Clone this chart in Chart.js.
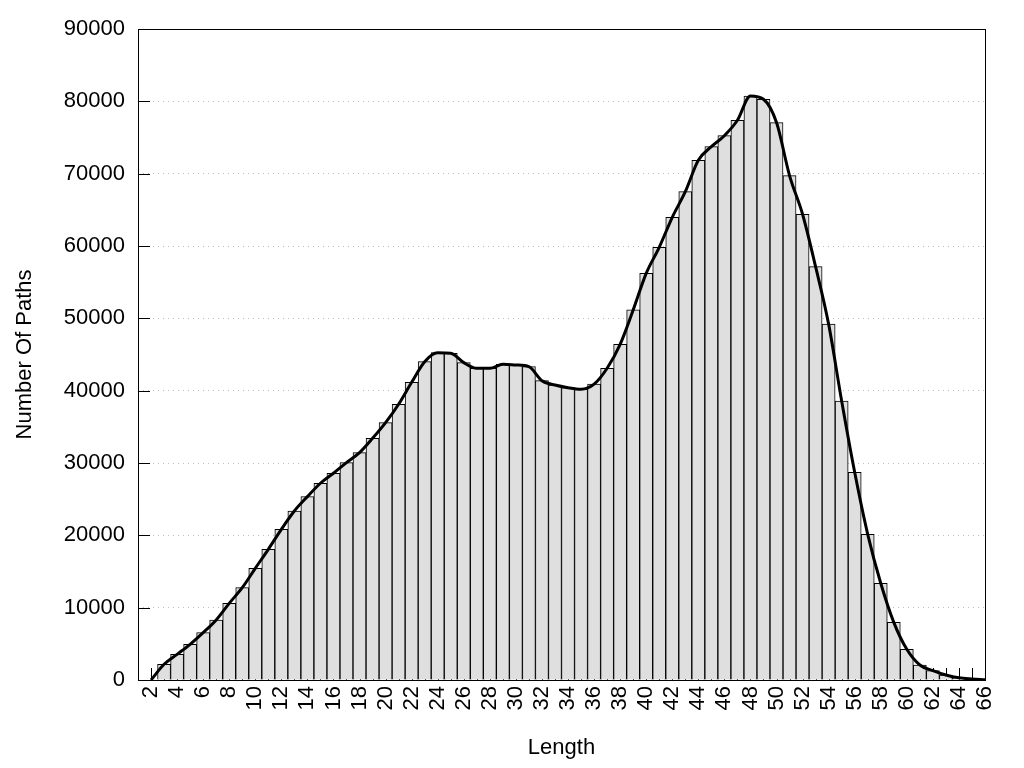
<!DOCTYPE html>
<html>
<head>
<meta charset="utf-8">
<script src="https://cdn.jsdelivr.net/npm/chart.js@4/dist/chart.umd.min.js"></script>
<style>
  body { margin: 0; background: #fff; }
</style>
</head>
<body>
<canvas id="myChart" width="1024" height="768"></canvas>
<script>
// path length categories (1 is an empty slot at the left edge of the axis)
const lengths = [1, 2, 3, 4, 5, 6, 7, 8, 9, 10, 11, 12, 13, 14, 15, 16, 17, 18, 19, 20,
  21, 22, 23, 24, 25, 26, 27, 28, 29, 30, 31, 32, 33, 34, 35, 36, 37, 38, 39, 40,
  41, 42, 43, 44, 45, 46, 47, 48, 49, 50, 51, 52, 53, 54, 55, 56, 57, 58, 59, 60,
  61, 62, 63, 64, 65, 66];

// number of paths for each length
const pathCounts = [null, 0, 2170, 3550, 4930, 6540, 8300, 10600, 12760, 15440,
  18070, 20830, 23370, 25350, 27200, 28580, 30050, 31430, 33410, 35580,
  38120, 41160, 44010, 45250, 45170, 43870, 43090, 43090, 43650, 43550,
  43320, 41380, 40780, 40410, 40200, 40900, 43100, 46410, 51160, 56220,
  59820, 63970, 67510, 71850, 73730, 75250, 77380, 80740, 80280, 77060,
  69740, 64390, 57140, 49200, 38570, 28710, 20140, 13370, 7970, 4240,
  2070, 1300, 690, 300, 150, 50];

const yTicks = [0, 10000, 20000, 30000, 40000, 50000, 60000, 70000, 80000, 90000];

const FONT = { family: '"Liberation Sans", Arial, sans-serif', size: 22 };

// inner tick marks + frame around the plot, gnuplot style
const frame = {
  id: 'frame',
  beforeDatasetsDraw(chart) {
    const { ctx, chartArea: a, scales: { x, y } } = chart;
    ctx.save();
    ctx.strokeStyle = '#000';
    ctx.lineWidth = 1;
    ctx.beginPath();
    yTicks.forEach(v => {
      const py = Math.round(y.getPixelForValue(v)) + 0.5;
      ctx.moveTo(a.left, py);
      ctx.lineTo(a.left + 12, py);
    });
    lengths.forEach((l, i) => {
      if (l < 2) return;
      const px = Math.round(x.getPixelForValue(i)) + 0.5;
      ctx.moveTo(px, a.bottom);
      ctx.lineTo(px, a.bottom - 12);
    });
    ctx.stroke();
    ctx.restore();
  },
  afterDatasetsDraw(chart) {
    const { ctx, chartArea: a } = chart;
    ctx.save();
    ctx.strokeStyle = '#000';
    ctx.lineWidth = 1;
    ctx.strokeRect(Math.round(a.left) + 0.5, Math.round(a.top) + 0.5,
      Math.round(a.right - a.left), Math.round(a.bottom - a.top));
    ctx.restore();
  }
};

const data = {
  labels: lengths,
  datasets: [
    {
      type: 'line',
      data: pathCounts,
      borderColor: '#000',
      borderWidth: 3,
      pointRadius: 0,
      cubicInterpolationMode: 'monotone',
      fill: false,
      order: 0
    },
    {
      type: 'bar',
      data: pathCounts,
      backgroundColor: '#dfdfdf',
      borderColor: '#000',
      borderWidth: 1,
      barPercentage: 1,
      categoryPercentage: 1,
      order: 1
    }
  ]
};

const config = {
  data,
  options: {
    responsive: false,
    animation: false,
    devicePixelRatio: 1,
    layout: { padding: { top: 29, right: 39, left: 0, bottom: 0 } },
    plugins: {
      legend: { display: false },
      tooltip: { enabled: false }
    },
    scales: {
      x: {
        type: 'category',
        offset: false,
        grid: { display: false, drawTicks: false },
        border: { display: false },
        ticks: {
          autoSkip: false,
          minRotation: 90,
          maxRotation: 90,
          padding: 6,
          color: '#000',
          font: FONT,
          callback: function (value, index) {
            const l = lengths[index];
            return l % 2 === 0 ? String(l) : '';
          }
        },
        title: { display: true, text: 'Length', color: '#000', font: FONT, padding: { top: 0, bottom: 7 } },
        afterFit: s => { s.height = 88; }
      },
      y: {
        min: 0,
        max: 90000,
        grid: { color: '#bdbdbd', drawTicks: false, lineWidth: 1 },
        border: { display: false, dash: [1, 4] },
        ticks: {
          stepSize: 10000,
          padding: 13,
          color: '#000',
          font: FONT,
          callback: v => String(v)
        },
        afterBuildTicks: s => { s.ticks = yTicks.map(v => ({ value: v })); },
        title: { display: true, text: 'Number Of Paths', color: '#000', font: FONT, padding: { top: 12, bottom: 0 } },
        afterFit: s => { s.width = 138; }
      }
    }
  },
  plugins: [frame]
};

const myChart = new Chart(document.getElementById('myChart'), config);
</script>
</body>
</html>
